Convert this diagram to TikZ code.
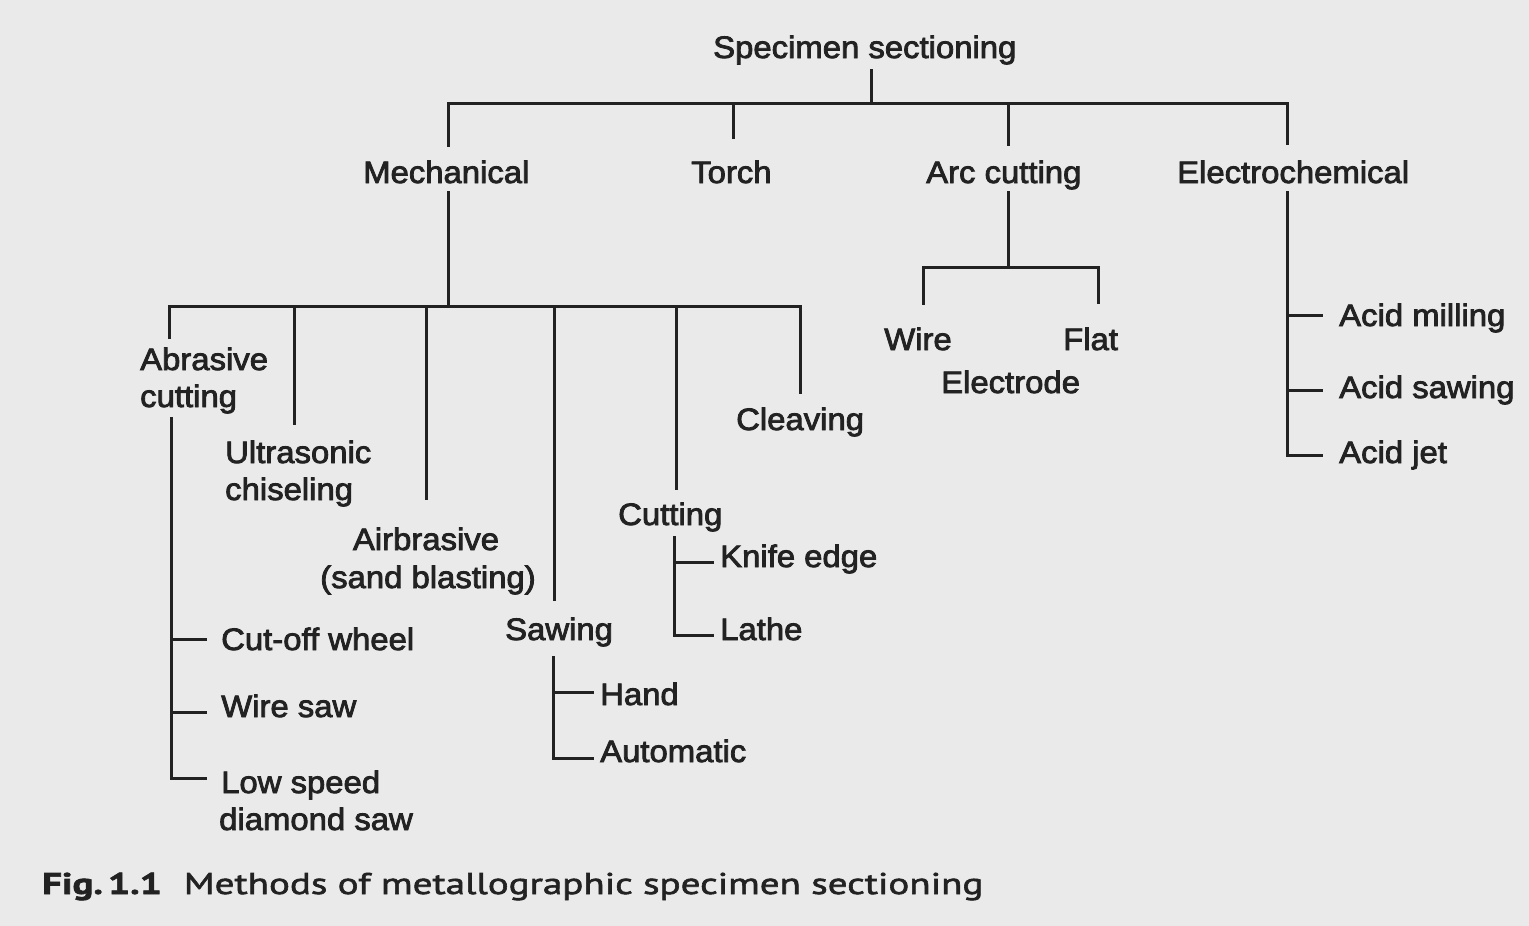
\documentclass[tikz,border=0pt]{standalone}
\usepackage{fontspec}
\setmainfont[FakeStretch=1.06,FakeBold=2.6]{Liberation Sans}
\newfontfamily\capfont[FakeStretch=1.3,FakeBold=2]{PT Sans}
\definecolor{paper}{RGB}{234,234,234}
\definecolor{ink}{RGB}{34,34,34}
\tikzset{
  lab/.style={inner sep=0pt, anchor=base west, text=ink, font=\fontsize{31}{37}\selectfont},
  labc/.style={lab, anchor=base},
  ln/.style={draw=ink, line width=3pt, line cap=rect, line join=miter},
}
\begin{document}
\begin{tikzpicture}[x=1pt,y=-1pt]
\fill[paper] (0,0) rectangle (1529,926);
\useasboundingbox (0,0) rectangle (1529,926);

% ---------- level 0 / 1 ----------
\node[lab] (root) at (713,58) {Specimen sectioning};
\node[lab] (mech) at (363,183) {Mechanical};
\node[lab] (torch) at (691,183) {Torch};
\node[lab] (arc) at (926,183) {Arc cutting};
\node[lab] (elec) at (1177,183) {Electrochemical};

\coordinate (r0) at (871,70);
\coordinate (r1) at (871,103);
\coordinate (barL) at (448,103);
\coordinate (barR) at (1287,103);
\coordinate (mechT) at (448,145);
\coordinate (torchT) at (733,137);
\coordinate (arcT) at (1008,144);
\coordinate (elecT) at (1287,143);
\draw[ln] (r0) -- (r1);
\draw[ln] (mechT) -- (barL) -- (barR) -- (elecT);
\draw[ln] (torchT) -- (torchT |- barL);
\draw[ln] (arcT) -- (arcT |- barL);

% ---------- Mechanical ----------
\coordinate (m0) at (448,192);
\coordinate (m1) at (448,306);
\coordinate (mL) at (169,306);
\coordinate (mR) at (800,306);
\draw[ln] (m0) -- (m1);
\draw[ln] (169,337) -- (mL) -- (mR) -- (800,392);
\coordinate (ultT) at (294,423);
\coordinate (airT) at (426,498);
\coordinate (sawT) at (554,599);
\coordinate (cutT) at (676,488);
\draw[ln] (ultT) -- (ultT |- mL);
\draw[ln] (airT) -- (airT |- mL);
\draw[ln] (sawT) -- (sawT |- mL);
\draw[ln] (cutT) -- (cutT |- mL);

\node[lab] (abr1) at (140,370) {Abrasive};
\node[lab] (abr2) at (140,407) {cutting};
\node[lab] (ult1) at (225,463) {Ultrasonic};
\node[lab] (ult2) at (225,500) {chiseling};
\node[labc] (air1) at (426,550) {Airbrasive};
\node[labc] (air2) at (428,588) {(sand blasting)};
\node[lab] (sawing) at (505,640) {Sawing};
\node[lab] (cutting) at (618,525) {Cutting};
\node[lab] (cleav) at (736,430) {Cleaving};

% abrasive cutting children
\node[lab] (cow) at (221,650) {Cut-off wheel};
\node[lab] (ws) at (221,717) {Wire saw};
\node[lab] (ls1) at (221,793) {Low speed};
\node[lab] (ls2) at (219,830) {diamond saw};
\coordinate (a0) at (171,418);
\coordinate (a1) at (171,778);
\draw[ln] (a0) -- (a1) -- (205,778);
\draw[ln] (171,639) -- (205,639);
\draw[ln] (171,712) -- (205,712);

% sawing children
\node[lab] (hand) at (600,705) {Hand};
\node[lab] (auto) at (600,762) {Automatic};
\coordinate (s0) at (553,657);
\coordinate (s1) at (553,758);
\draw[ln] (s0) -- (s1) -- (592,758);
\draw[ln] (553,692) -- (592,692);

% cutting children
\node[lab] (knife) at (720,567) {Knife edge};
\node[lab] (lathe) at (720,640) {Lathe};
\coordinate (c0) at (674,537);
\coordinate (c1) at (674,635);
\draw[ln] (c0) -- (c1) -- (712,635);
\draw[ln] (674,562) -- (712,562);

% ---------- Arc cutting ----------
\coordinate (ac0) at (1008,192);
\coordinate (ac1) at (1008,267);
\draw[ln] (ac0) -- (ac1);
\draw[ln] (923,303) -- (923,267) -- (1098,267) -- (1098,302);
\node[lab] (wire) at (884,350) {Wire};
\node[lab] (flat) at (1063,350) {Flat};
\node[lab] (electrode) at (941,393) {Electrode};

% ---------- Electrochemical ----------
\coordinate (e0) at (1287,192);
\coordinate (e1) at (1287,455);
\draw[ln] (e0) -- (e1) -- (1321,455);
\draw[ln] (1287,315) -- (1321,315);
\draw[ln] (1287,390) -- (1321,390);
\node[lab] (am) at (1339,326) {Acid milling};
\node[lab] (as) at (1339,398) {Acid sawing};
\node[lab] (aj) at (1339,463) {Acid jet};

% ---------- caption ----------
\node[inner sep=0pt, anchor=base west, text=ink, font=\capfont\fontsize{30}{35}\selectfont] (cap) at (42,894) {\textbf{Fig.\,1.1}\hspace{22pt}Methods of metallographic specimen sectioning};
\end{tikzpicture}
\end{document}
